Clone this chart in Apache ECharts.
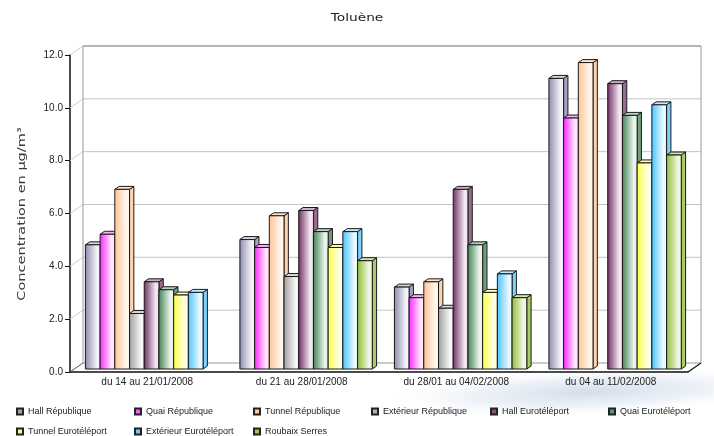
<!DOCTYPE html>
<html>
<head>
<meta charset="utf-8">
<script src="https://cdn.jsdelivr.net/npm/echarts@6/dist/echarts.min.js"></script>
<style>
  html, body { margin: 0; padding: 0; background: #ffffff; }
  #chart { width: 714px; height: 436px; }
</style>
</head>
<body>
<div id="chart"></div>
<script>
// Weekly toluene concentrations (µg/m³) per sampling site
const categories = [
  'du 14 au 21/01/2008',
  'du 21 au 28/01/2008',
  'du 28/01 au 04/02/2008',
  'du 04 au 11/02/2008'
];
const hallRepublique       = [4.7, 4.9, 3.1, 11.0];
const quaiRepublique       = [5.1, 4.6, 2.7, 9.5];
const tunnelRepublique     = [6.8, 5.8, 3.3, 11.6];
const exterieurRepublique  = [2.1, 3.5, 2.3, null];
const hallEuroteleport     = [3.3, 6.0, 6.8, 10.8];
const quaiEuroteleport     = [3.0, 5.2, 4.7, 9.6];
const tunnelEuroteleport   = [2.8, 4.6, 2.9, 7.8];
const exterieurEuroteleport= [2.9, 5.2, 3.6, 10.0];
const roubaixSerres        = [null, 4.1, 2.7, 8.1];
const yTicks = [0, 2, 4, 6, 8, 10, 12];

const chartTitle = 'Toluène';
const yAxisTitle = 'Concentration en µg/m³';

const seriesNames = [
  'Hall République', 'Quai République', 'Tunnel République', 'Extérieur République',
  'Hall Eurotéléport', 'Quai Eurotéléport', 'Tunnel Eurotéléport', 'Extérieur Eurotéléport',
  'Roubaix Serres'
];
const seriesValues = [
  hallRepublique, quaiRepublique, tunnelRepublique, exterieurRepublique,
  hallEuroteleport, quaiEuroteleport, tunnelEuroteleport, exterieurEuroteleport,
  roubaixSerres
];

// shading for each column: dark edge, light face, side wall, top lid, legend swatch
const palettes = [
  { dark: '#8a8aac', light: '#f2f2f8', side: '#a4a4c0', top: '#d4d4e4', base: '#a0a0c0' },
  { dark: '#ff22ff', light: '#ffe6ff', side: '#ff66ff', top: '#ffb0ff', base: '#ff55ff' },
  { dark: '#ffc494', light: '#fff5ec', side: '#ffd2ae', top: '#ffe4cc', base: '#ffcc99' },
  { dark: '#9c9c9c', light: '#f6f6f6', side: '#b4b4b4', top: '#d8d8d8', base: '#b0b0b0' },
  { dark: '#6e2c62', light: '#f2e6f0', side: '#9a6a90', top: '#cdb0c8', base: '#8a4a7e' },
  { dark: '#3f7f52', light: '#eaf4ec', side: '#6f9f7c', top: '#b4d2bc', base: '#5a9a6a' },
  { dark: '#ffff44', light: '#ffffe6', side: '#ffff80', top: '#ffffb8', base: '#ffff66' },
  { dark: '#44c4ff', light: '#eaf8ff', side: '#7ad4ff', top: '#bfeaff', base: '#66ccff' },
  { dark: '#8cbc36', light: '#f0f7e0', side: '#a8cc66', top: '#d2e6ae', base: '#99cc44' }
];

// oblique depth of the 3D box (floor/back wall offset)
const DEPTH_X = 13;
const DEPTH_Y = -9;
const BAR_FRAC = 0.0952;
const N = seriesNames.length;
const EDGE = '#1a1a1a';

function columnRenderer(idx) {
  const pal = palettes[idx];
  return function (params, api) {
    const v = api.value(1);
    if (v === null || v === undefined || isNaN(v)) return null;
    const c = api.value(0);
    const band = api.size([1, 0])[0];
    const base = api.coord([c, 0]);
    const tip = api.coord([c, v]);
    const w = band * BAR_FRAC;
    const sx = DEPTH_X / 3, sy = DEPTH_Y / 3;
    const x0 = base[0] - (N / 2) * w + idx * w + sx;
    const x1 = x0 + w;
    const yb = base[1] + sy;
    const yt = tip[1] + sy;
    return {
      type: 'group',
      children: [
        {
          type: 'polygon',
          shape: { points: [[x1, yb], [x1 + sx, yb + sy], [x1 + sx, yt + sy], [x1, yt]] },
          style: { fill: pal.side, stroke: EDGE, lineWidth: 1 }
        },
        {
          type: 'polygon',
          shape: { points: [[x0, yt], [x1, yt], [x1 + sx, yt + sy], [x0 + sx, yt + sy]] },
          style: { fill: pal.top, stroke: EDGE, lineWidth: 1 }
        },
        {
          type: 'rect',
          shape: { x: x0, y: yt, width: w, height: yb - yt },
          style: {
            fill: new echarts.graphic.LinearGradient(0, 0, 1, 0, [
              { offset: 0, color: pal.dark },
              { offset: 0.75, color: pal.light },
              { offset: 1, color: pal.light }
            ]),
            stroke: EDGE, lineWidth: 1
          }
        }
      ]
    };
  };
}

// back wall, side wall and floor of the 3D box, one item per y tick
function frameRenderer(params, api) {
  const cs = params.coordSys;
  const v = api.value(1);
  const y = api.coord([0, v])[1];
  const left = cs.x, right = cs.x + cs.width;
  const children = [
    { type: 'line', shape: { x1: left, y1: y, x2: left + DEPTH_X, y2: y + DEPTH_Y },
      style: { stroke: v === 0 ? '#555' : '#cfcfcf', lineWidth: 1 } },
    { type: 'line', shape: { x1: left + DEPTH_X, y1: y + DEPTH_Y, x2: right + DEPTH_X, y2: y + DEPTH_Y },
      style: { stroke: v === 0 ? '#999' : '#c4c4c4', lineWidth: 1 } }
  ];
  if (v === 0) {
    children.push({ type: 'line', shape: { x1: right, y1: y, x2: right + DEPTH_X, y2: y + DEPTH_Y },
      style: { stroke: '#111', lineWidth: 1.2 } });
  }
  if (v === yTicks[yTicks.length - 1]) {
    const y0 = api.coord([0, 0])[1];
    children.push(
      { type: 'line', shape: { x1: left + DEPTH_X, y1: y + DEPTH_Y, x2: left + DEPTH_X, y2: y0 + DEPTH_Y },
        style: { stroke: '#9a9a9a', lineWidth: 1 } },
      { type: 'line', shape: { x1: right + DEPTH_X, y1: y + DEPTH_Y, x2: right + DEPTH_X, y2: y0 + DEPTH_Y },
        style: { stroke: '#9a9a9a', lineWidth: 1 } },
      { type: 'line', shape: { x1: left + DEPTH_X, y1: y + DEPTH_Y, x2: right + DEPTH_X, y2: y + DEPTH_Y },
        style: { stroke: '#8a8a8a', lineWidth: 1 } }
    );
  }
  return { type: 'group', children: children };
}

const series = [{
  type: 'custom',
  name: 'frame',
  silent: true,
  z: 1,
  renderItem: frameRenderer,
  encode: { x: 0, y: 1 },
  data: yTicks.map(function (t) { return [0, t]; })
}];
seriesNames.forEach(function (name, i) {
  series.push({
    type: 'custom',
    name: name,
    z: 2,
    renderItem: columnRenderer(i),
    encode: { x: 0, y: 1 },
    itemStyle: { color: palettes[i].base, borderColor: '#222', borderWidth: 1 },
    data: categories.map(function (_, k) {
      const val = seriesValues[i][k];
      return [k, val === null ? NaN : val];
    })
  });
});

// legend laid out as a 6-column table
const legendCols = [16, 134, 253, 371, 490, 608];
const legendRows = [407, 427];
const legends = seriesNames.map(function (name, i) {
  return {
    data: [name],
    left: legendCols[i % 6],
    top: legendRows[Math.floor(i / 6)],
    icon: 'rect',
    itemWidth: 6,
    itemHeight: 6,
    itemGap: 0,
    padding: 0,
    selectedMode: false,
    textStyle: { fontFamily: 'Liberation Sans', fontSize: 9, color: '#222' }
  };
});

const chart = echarts.init(document.getElementById('chart'), null, { renderer: 'canvas' });
chart.setOption({
  animation: false,
  backgroundColor: '#ffffff',
  graphic: [
    {
      // soft bluish sweep behind the lower part of the chart
      type: 'circle',
      z: -10,
      silent: true,
      x: 590, y: 392,
      scaleX: 6.5, scaleY: 0.75,
      rotation: 0.04,
      shape: { cx: 0, cy: 0, r: 30 },
      style: {
        fill: new echarts.graphic.RadialGradient(0.5, 0.5, 0.5, [
          { offset: 0, color: 'rgba(180,198,222,0.6)' },
          { offset: 0.6, color: 'rgba(200,214,232,0.32)' },
          { offset: 1, color: 'rgba(230,236,245,0)' }
        ])
      }
    },
    {
      type: 'text',
      x: 357, y: 18,
      scaleX: 1.25,
      style: {
        text: chartTitle,
        fontFamily: 'DejaVu Sans', fontSize: 11, fill: '#222',
        textAlign: 'center', textVerticalAlign: 'middle'
      }
    },
    {
      type: 'text',
      x: 22, y: 214,
      rotation: Math.PI / 2,
      scaleX: 1.32,
      style: {
        text: yAxisTitle,
        fontFamily: 'DejaVu Sans', fontSize: 11, fill: '#3a3a3a',
        textAlign: 'center', textVerticalAlign: 'middle'
      }
    }
  ],
  legend: legends,
  grid: { left: 70, right: 26, top: 55, bottom: 64 },
  xAxis: {
    type: 'category',
    data: categories,
    axisLine: { show: true, lineStyle: { color: '#111', width: 1.5 } },
    axisTick: { show: false },
    axisLabel: { fontFamily: 'Liberation Sans', fontSize: 10, color: '#222', margin: 5 },
    splitLine: { show: false }
  },
  yAxis: {
    type: 'value',
    min: 0,
    max: 12,
    interval: 2,
    axisLine: { show: true, lineStyle: { color: '#111', width: 1.5 } },
    axisTick: { show: true, length: 5, lineStyle: { color: '#111' } },
    axisLabel: {
      fontFamily: 'Liberation Sans', fontSize: 10, color: '#222', margin: 7,
      formatter: function (v) { return v.toFixed(1); }
    },
    splitLine: { show: false }
  },
  series: series
});
</script>
</body>
</html>
